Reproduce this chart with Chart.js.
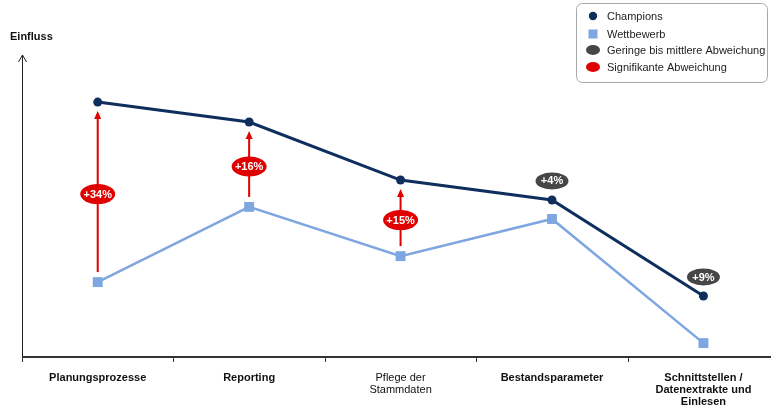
<!DOCTYPE html>
<html>
<head>
<meta charset="utf-8">
<script src="https://cdn.jsdelivr.net/npm/chart.js@4"></script>
<style>
  html, body { margin: 0; padding: 0; background: #fff; }
  #wrap { position: relative; width: 771px; height: 407px; }
</style>
</head>
<body>
<div id="wrap"><canvas id="c" width="771" height="407"></canvas></div>
<script>
// Bereiche der Betrachtung
const categories = [
  ['Planungsprozesse'],
  ['Reporting'],
  ['Pflege der', 'Stammdaten'],
  ['Bestandsparameter'],
  ['Schnittstellen /', 'Datenextrakte und', 'Einlesen']
];
// Einfluss (relative Skala 0–100)
const champions = [84.4, 77.8, 58.6, 52.0, 20.2];
const wettbewerb = [24.8, 49.7, 33.4, 45.7, 4.6];
// Abweichung Champions gegenüber Wettbewerb
const deltaLabels = ['+34%', '+16%', '+15%', '+4%', '+9%'];
const significant = [true, true, true, false, false];

const NAVY = '#0e2e5e';
const LIGHT = '#7ea6e0';
const RED = '#e00000';
const GREY = '#464646';
const FONT = '"Liberation Sans", Arial, sans-serif';

function ellipseLabel(ctx, x, y, text, fill, rx, ry) {
  ctx.save();
  ctx.fillStyle = fill;
  ctx.beginPath();
  ctx.ellipse(x, y, rx, ry, 0, 0, Math.PI * 2);
  ctx.fill();
  ctx.fillStyle = '#fff';
  ctx.font = 'bold 11px ' + FONT;
  ctx.textAlign = 'center';
  ctx.textBaseline = 'middle';
  ctx.fillText(text, x, y + 0.5);
  ctx.restore();
}

const decorations = {
  id: 'decorations',
  afterDatasetsDraw(chart) {
    const ctx = chart.ctx;
    const xs = chart.scales.x, ys = chart.scales.y;
    const area = chart.chartArea;

    ctx.save();
    // X-Achse bis zum rechten Rand
    ctx.strokeStyle = '#333';
    ctx.lineWidth = 2;
    ctx.beginPath();
    ctx.moveTo(area.left, area.bottom);
    ctx.lineTo(chart.width, area.bottom);
    ctx.stroke();

    // Y-Achse mit Pfeilspitze
    ctx.strokeStyle = '#222';
    ctx.lineWidth = 1;
    ctx.beginPath();
    ctx.moveTo(area.left + 0.5, area.bottom);
    ctx.lineTo(area.left + 0.5, 55);
    ctx.moveTo(area.left - 3.5, 62);
    ctx.lineTo(area.left + 0.5, 55);
    ctx.lineTo(area.left + 4.5, 62);
    ctx.stroke();
    ctx.fillStyle = '#111';
    ctx.font = 'bold 11px ' + FONT;
    ctx.textBaseline = 'middle';
    ctx.fillText('Einfluss', 10, 37);

    // Teilstriche zwischen den Bereichen
    ctx.strokeStyle = '#333';
    ctx.lineWidth = 1;
    for (let i = 0; i <= categories.length; i++) {
      const px = Math.round(xs.getPixelForValue(i - 0.5)) + 0.5;
      ctx.beginPath();
      ctx.moveTo(px, area.bottom);
      ctx.lineTo(px, area.bottom + 5);
      ctx.stroke();
    }
    ctx.restore();

    // Abweichungen: Pfeile und Kennzeichnung
    categories.forEach((_, i) => {
      const x = xs.getPixelForValue(i);
      const yTop = ys.getPixelForValue(champions[i]);
      const yBot = ys.getPixelForValue(wettbewerb[i]);
      if (significant[i]) {
        const start = yBot - 10;
        const tip = yTop + 9;
        ctx.save();
        ctx.strokeStyle = RED;
        ctx.fillStyle = RED;
        ctx.lineWidth = 2;
        ctx.beginPath();
        ctx.moveTo(x, start);
        ctx.lineTo(x, tip + 7);
        ctx.stroke();
        ctx.beginPath();
        ctx.moveTo(x, tip);
        ctx.lineTo(x - 3.5, tip + 8);
        ctx.lineTo(x + 3.5, tip + 8);
        ctx.closePath();
        ctx.fill();
        ctx.restore();
        ellipseLabel(ctx, x, (yTop + yBot) / 2 + 2, deltaLabels[i], RED, 17.5, 10);
      } else {
        ellipseLabel(ctx, x, yTop - 19, deltaLabels[i], GREY, 16.5, 8.5);
      }
    });

    // Legende
    ctx.save();
    const lx = 576.5, ly = 3.5, lw = 191, lh = 79, r = 6;
    ctx.strokeStyle = '#a8a8a8';
    ctx.lineWidth = 1;
    ctx.fillStyle = '#fff';
    ctx.beginPath();
    ctx.roundRect(lx, ly, lw, lh, r);
    ctx.fill();
    ctx.stroke();
    const items = [
      { text: 'Champions', y: 16, draw: (x, y) => { ctx.fillStyle = NAVY; ctx.beginPath(); ctx.arc(x, y, 4.2, 0, Math.PI * 2); ctx.fill(); } },
      { text: 'Wettbewerb', y: 34, draw: (x, y) => { ctx.fillStyle = LIGHT; ctx.fillRect(x - 4.5, y - 4.5, 9, 9); } },
      { text: 'Geringe bis mittlere Abweichung', y: 50, draw: (x, y) => { ctx.fillStyle = GREY; ctx.beginPath(); ctx.ellipse(x, y, 7, 5, 0, 0, Math.PI * 2); ctx.fill(); } },
      { text: 'Signifikante Abweichung', y: 67, draw: (x, y) => { ctx.fillStyle = RED; ctx.beginPath(); ctx.ellipse(x, y, 7, 5, 0, 0, Math.PI * 2); ctx.fill(); } }
    ];
    ctx.font = '11px ' + FONT;
    ctx.textBaseline = 'middle';
    items.forEach(it => {
      it.draw(593, it.y);
      ctx.fillStyle = '#222';
      ctx.fillText(it.text, 607, it.y + 0.5);
    });
    ctx.restore();
  }
};

new Chart(document.getElementById('c'), {
  type: 'line',
  data: {
    datasets: [
      {
        label: 'Champions',
        data: champions.map((v, i) => ({ x: i, y: v })),
        borderColor: NAVY,
        backgroundColor: NAVY,
        borderWidth: 3,
        pointStyle: 'circle',
        pointRadius: 4.5,
        pointBorderWidth: 0,
        tension: 0,
        clip: false
      },
      {
        label: 'Wettbewerb',
        data: wettbewerb.map((v, i) => ({ x: i, y: v })),
        borderColor: LIGHT,
        backgroundColor: LIGHT,
        borderWidth: 2.5,
        pointStyle: 'rect',
        pointRadius: 7,
        pointBorderWidth: 0,
        tension: 0,
        clip: false
      }
    ]
  },
  options: {
    responsive: false,
    animation: false,
    layout: { padding: { left: 22, top: 55, right: 0, bottom: 0 } },
    plugins: { legend: { display: false }, tooltip: { enabled: false } },
    scales: {
      x: {
        type: 'linear',
        min: -0.5,
        max: 4.40,
        afterBuildTicks: (scale) => { scale.ticks = categories.map((_, i) => ({ value: i })); },
        afterFit: (scale) => { scale.height = 50; },
        grid: { display: false, drawTicks: false },
        border: { display: false },
        ticks: {
          autoSkip: false,
          maxRotation: 0,
          padding: 15,
          color: '#111',
          callback: (v, idx) => categories[idx],
          font: (ctx) => ({
            family: FONT,
            size: 11,
            weight: ctx.index === 2 ? 'normal' : 'bold',
            lineHeight: 1.1
          })
        }
      },
      y: {
        display: false,
        min: 0,
        max: 100
      }
    }
  },
  plugins: [decorations]
});
</script>
</body>
</html>
